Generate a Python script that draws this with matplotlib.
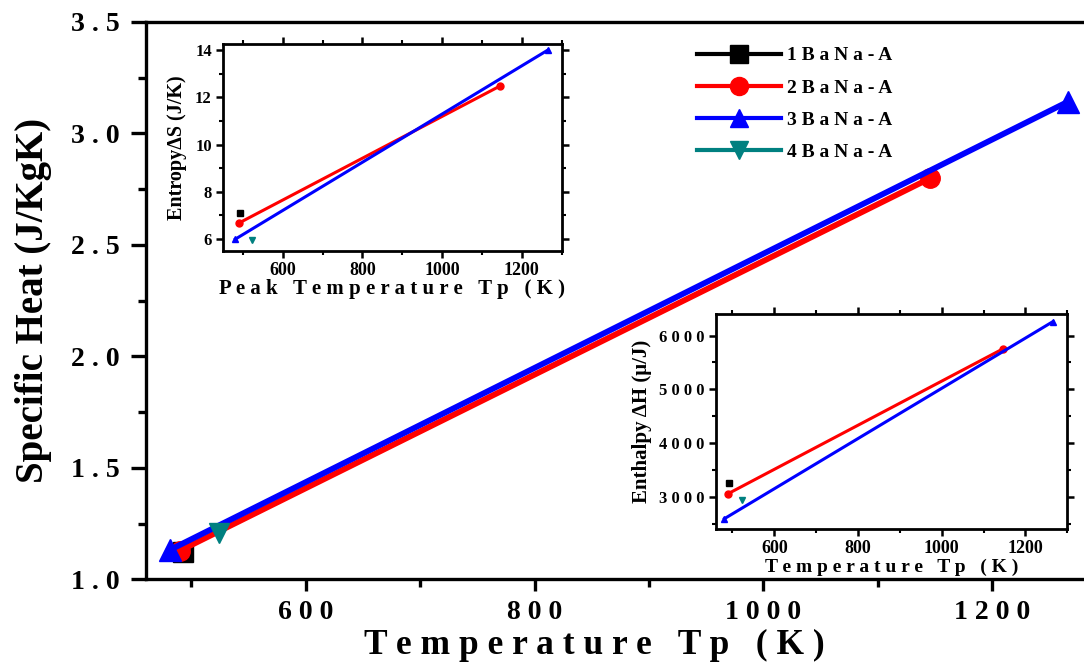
import matplotlib
matplotlib.use('Agg')
import matplotlib.pyplot as plt
from matplotlib.lines import Line2D
from matplotlib.ticker import MultipleLocator, FuncFormatter

# sample names and colours
samples = ['1BaNa-A', '2BaNa-A', '3BaNa-A', '4BaNa-A']
colors = ['#000000', '#FF0000', '#0000FF', '#008080']
markers = ['s', 'o', '^', 'v']

# peak temperatures Tp (K)
temp_1 = [493]
temp_2 = [490, 1146]
temp_3 = [481, 1266]
temp_4 = [524]

# specific heat (J/KgK)
cp_1 = [1.125]
cp_2 = [1.129, 2.80]
cp_3 = [1.132, 3.142]
cp_4 = [1.208]

# entropy dS (J/K)
s_1 = [7.10]
s_2 = [6.68, 12.48]
s_3 = [6.00, 14.00]
s_4 = [5.97]

# enthalpy dH (uJ)
h_1 = [3261]
h_2 = [3063, 5752]
h_3 = [2598, 6261]
h_4 = [2950]

temps = [temp_1, temp_2, temp_3, temp_4]
cps = [cp_1, cp_2, cp_3, cp_4]
entropies = [s_1, s_2, s_3, s_4]
enthalpies = [h_1, h_2, h_3, h_4]

plt.rcParams['font.family'] = ['Liberation Serif', 'DejaVu Serif']
plt.rcParams['font.weight'] = 'bold'


def spaced(s, gap=' '):
    return gap.join(s)


fig = plt.figure(figsize=(10.84, 6.68), dpi=100)

# main plot (right edge runs past the figure border)
ax = fig.add_axes([0.1343, 0.1325, 0.8866, 0.8346])
for t, c, col, m in zip(temps, cps, colors, markers):
    ms = 15.5 if m == '^' else 14
    ax.plot(t, c, color=col, marker=m, ms=ms, lw=4.2)
ax.set_xlim(460, 1300)
ax.set_ylim(1.0, 3.5)
ax.xaxis.set_major_locator(MultipleLocator(200))
ax.xaxis.set_minor_locator(MultipleLocator(100))
ax.yaxis.set_major_locator(MultipleLocator(0.5))
ax.yaxis.set_minor_locator(MultipleLocator(0.25))
ax.xaxis.set_major_formatter(FuncFormatter(lambda v, p: spaced(f'{v:.0f}')))
ax.yaxis.set_major_formatter(FuncFormatter(lambda v, p: spaced(f'{v:.1f}')))
for sp in ax.spines.values():
    sp.set_linewidth(2.4)
ax.tick_params(axis='x', which='major', length=8.5, width=2.4, labelsize=20, pad=6)
ax.tick_params(axis='y', which='major', length=10.5, width=2.4, labelsize=20, pad=8)
ax.tick_params(which='minor', length=5.5, width=2.4)
ax.set_xlabel('T e m p e r a t u r e   T p   ( K )', fontsize=25.5, fontweight='bold')
ax.xaxis.set_label_coords(0.467, -0.088)
ax.set_ylabel('Specific Heat (J/KgK)', fontsize=28, fontweight='bold', labelpad=14)

handles = [Line2D([], [], color=col, marker=m, ms=13, lw=3)
           for col, m in zip(colors, markers)]
ax.legend(handles, [spaced(s) for s in samples], loc='upper left',
          bbox_to_anchor=(0.643, 0.930), bbox_transform=fig.transFigure,
          frameon=False, fontsize=14, handlelength=4.3, handletextpad=0.35,
          labelspacing=0.75, borderpad=0, borderaxespad=0)


def style_inset(a):
    for sp in a.spines.values():
        sp.set_linewidth(2.0)
    a.tick_params(which='major', length=5, width=1.8, direction='out',
                  top=True, right=True)
    a.tick_params(which='minor', length=3, width=1.5, direction='out',
                  top=True, right=True)
    a.xaxis.set_major_locator(MultipleLocator(200))
    a.xaxis.set_minor_locator(MultipleLocator(100))


# entropy inset
ax1 = fig.add_axes([0.2057, 0.6243, 0.3125, 0.3099])
for t, s, col, m in zip(temps, entropies, colors, markers):
    ax1.plot(t, s, color=col, marker=m, ms=5, lw=2.2)
ax1.set_xlim(450, 1300)
ax1.set_ylim(5.5, 14.25)
style_inset(ax1)
ax1.yaxis.set_major_locator(MultipleLocator(2))
ax1.yaxis.set_minor_locator(MultipleLocator(1))
ax1.tick_params(axis='x', labelsize=13, pad=3)
ax1.tick_params(axis='y', labelsize=12, pad=3)
ax1.set_xlabel('P e a k   T e m p e r a t u r e   T p   ( K )', fontsize=15,
               fontweight='bold', labelpad=0)
ax1.set_ylabel('EntropyΔS (J/K)', fontsize=14.5, fontweight='bold', labelpad=6)

# enthalpy inset
ax2 = fig.add_axes([0.6602, 0.2076, 0.3244, 0.3223])
for t, h, col, m in zip(temps, enthalpies, colors, markers):
    ax2.plot(t, h, color=col, marker=m, ms=5, lw=2.2)
ax2.set_xlim(460, 1300)
ax2.set_ylim(2400, 6400)
style_inset(ax2)
ax2.yaxis.set_major_locator(MultipleLocator(1000))
ax2.yaxis.set_minor_locator(MultipleLocator(500))
ax2.yaxis.set_major_formatter(FuncFormatter(lambda v, p: spaced(f'{v:.0f}')))
ax2.tick_params(axis='x', labelsize=13, pad=3)
ax2.tick_params(axis='y', labelsize=12, pad=3)
ax2.set_xlabel('T e m p e r a t u r e   T p   ( K )', fontsize=14,
               fontweight='bold', labelpad=1)
ax2.set_ylabel('Enthalpy ΔH (μ/J)', fontsize=15, fontweight='bold', labelpad=5)

fig.savefig('out.png', dpi=100)
